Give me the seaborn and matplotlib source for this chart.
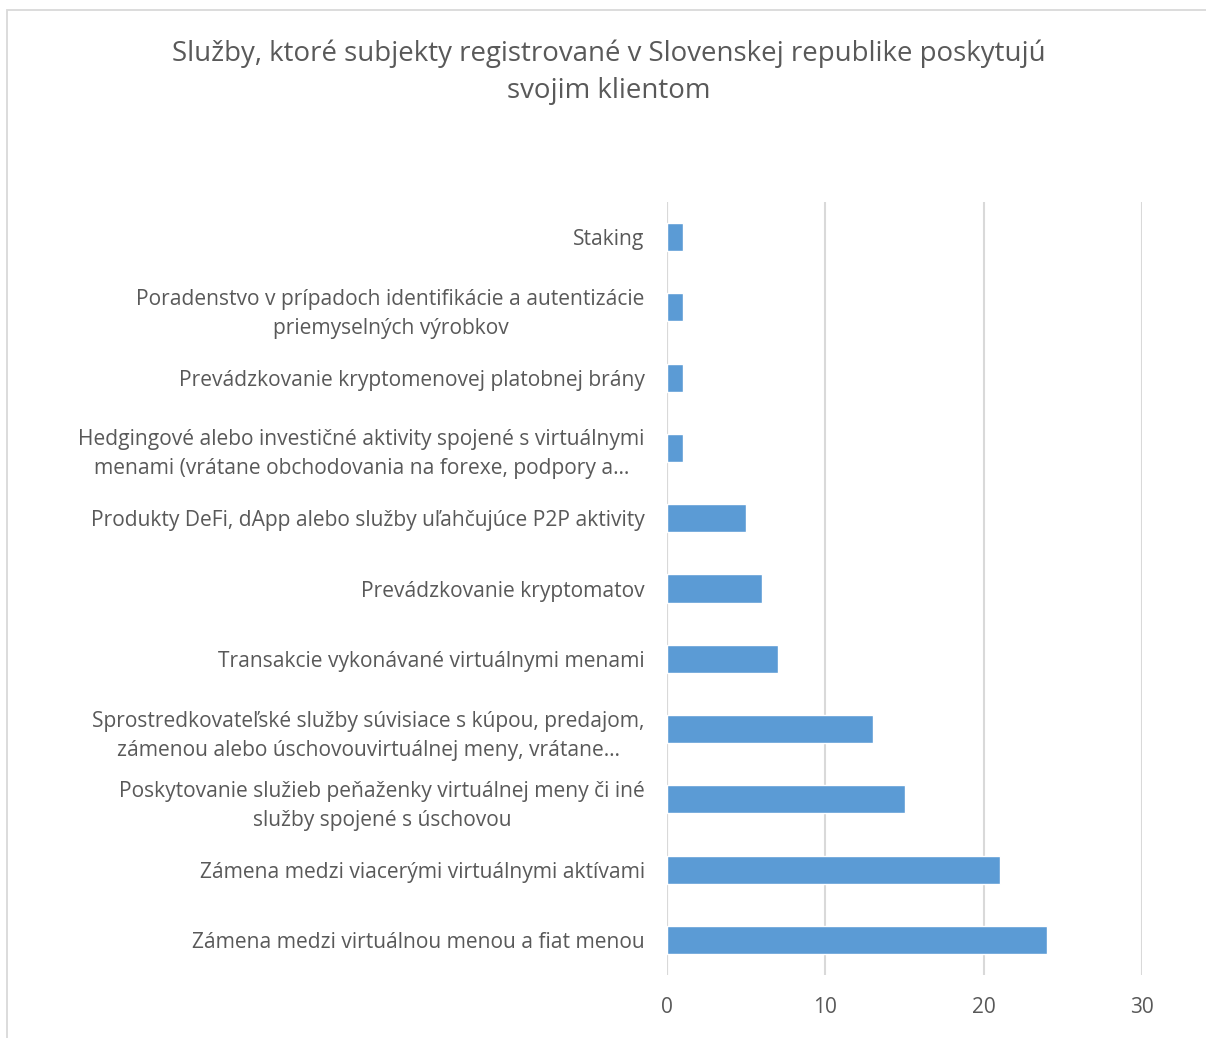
import matplotlib
matplotlib.use("Agg")
import matplotlib.pyplot as plt
from matplotlib.patches import Rectangle
import seaborn as sns
import pandas as pd

services = [
    "Staking",
    "Poradenstvo v prípadoch identifikácie a autentizácie\npriemyselných výrobkov",
    "Prevádzkovanie kryptomenovej platobnej brány",
    "Hedgingové alebo investičné aktivity spojené s virtuálnymi\nmenami (vrátane obchodovania na forexe, podpory a…",
    "Produkty DeFi, dApp alebo služby uľahčujúce P2P aktivity",
    "Prevádzkovanie kryptomatov",
    "Transakcie vykonávané virtuálnymi menami",
    "Sprostredkovateľské služby súvisiace s kúpou, predajom,\nzámenou alebo úschovouvirtuálnej meny, vrátane…",
    "Poskytovanie služieb peňaženky virtuálnej meny či iné\nslužby spojené s úschovou",
    "Zámena medzi viacerými virtuálnymi aktívami",
    "Zámena medzi virtuálnou menou a fiat menou",
]
counts = [1, 1, 1, 1, 5, 6, 7, 13, 15, 21, 24]
x_ticks = [0, 10, 20, 30]

title = "Služby, ktoré subjekty registrované v Slovenskej republike poskytujú\nsvojim klientom"

sns.set_theme(style="white")
plt.rcParams["font.family"] = ["Open Sans", "DejaVu Sans"]

text_color = "#595959"
grid_color = "#d9d9d9"
bar_color = "#5B9BD5"

W, H = 1206, 1038
fig = plt.figure(figsize=(W / 100, H / 100), dpi=100)

# outer chart frame
fig.patches.append(Rectangle((7 / W, -0.05), 1.1, 1 - 10 / H + 0.05,
                             transform=fig.transFigure, fill=False,
                             edgecolor=grid_color, linewidth=1.3))

ax = fig.add_axes([667 / W, 1 - 975 / H, (1142 - 667) / W, (975 - 202) / H])

df = pd.DataFrame({"service": services, "count": counts})
sns.barplot(data=df, y="service", x="count", orient="h", color=bar_color,
            saturation=1, width=0.4, ax=ax, zorder=3)

ax.set_xlim(0, 30)
ax.set_ylim(len(services) - 0.5, -0.5)
ax.set_xticks(x_ticks)
ax.set_xticklabels([str(t) for t in x_ticks])
ax.xaxis.grid(True, color=grid_color, linewidth=1.5, zorder=0)
ax.yaxis.grid(False)
for s in ax.spines.values():
    s.set_visible(False)
ax.axvline(0, color=grid_color, linewidth=1.5, zorder=1)
ax.set_xlabel("")
ax.set_ylabel("")
ax.tick_params(axis="x", length=0, pad=16, labelsize=15, labelcolor=text_color)
ax.tick_params(axis="y", length=0, pad=16, labelsize=15.1, labelcolor=text_color)
for lab in ax.get_yticklabels():
    lab.set_multialignment("center")
    lab.set_linespacing(1.5)

fig.text(609 / W, 1 - 72 / H, title, ha="center", va="center",
         fontsize=19.9, color=text_color, linespacing=1.42)

fig.savefig("out.png", dpi=100, facecolor="white")
